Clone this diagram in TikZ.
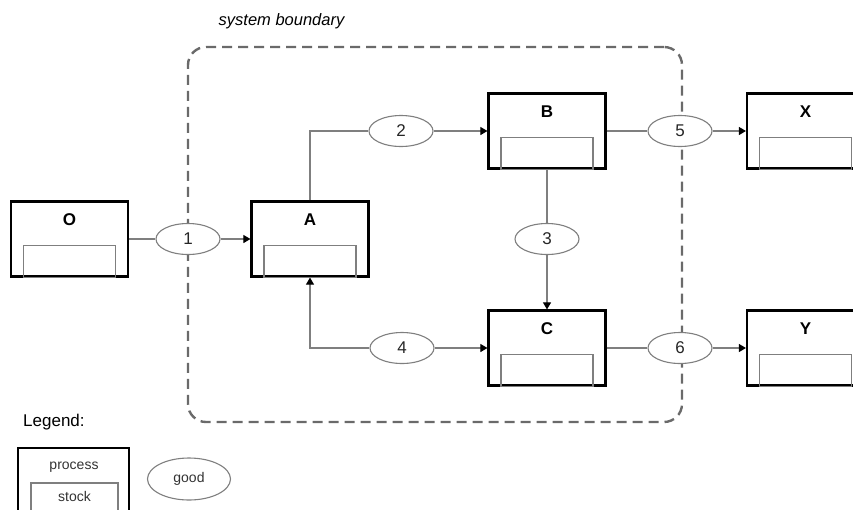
\documentclass[tikz,border=0pt]{standalone}
\usepackage{fontspec}
\setmainfont{Liberation Sans}
\usetikzlibrary{arrows.meta,shapes.geometric,calc}

\definecolor{linegray}{HTML}{7F7F7F}
\definecolor{bordergray}{HTML}{6A6A6A}

\tikzset{
  procbox/.style={draw=black, line width=2.2pt, fill=white,
    minimum width=117pt, minimum height=75pt, inner sep=0pt},
  stockbox/.style={draw=linegray, line width=1.1pt,
    minimum width=92pt, minimum height=32pt, inner sep=0pt},
  proclabel/.style={font=\fontsize{17}{20}\selectfont\bfseries, inner sep=0pt},
  good/.style={ellipse, draw=linegray, line width=1.1pt, fill=white,
    minimum width=64pt, minimum height=31pt, inner sep=0pt,
    font=\fontsize{17}{20}\selectfont, text=black!85},
  conn/.style={draw=linegray, line width=1.1pt},
  flow/.style={conn, -{Triangle[length=7pt,width=8pt,color=black]}},
  boundary/.style={draw=bordergray, line width=2.4pt,
    dash pattern=on 10pt off 6pt, rounded corners=18pt,
    minimum width=494pt, minimum height=375pt, inner sep=0pt},
}

% a process box with its stock and its name
\newcommand\procnode[4]{%
  \node[procbox] (#1) at (#2,#3) {};
  \node[stockbox, anchor=south] (#1s) at (#1.south) {};
  \node[proclabel] (#1l) at ($(#1.north)+(0,19)$) {#4};
}

\begin{document}
\begin{tikzpicture}[x=1pt, y=-1pt]
\path[use as bounding box] (0,0) rectangle (853,509);
\clip (0,0) rectangle (853,509);

% system boundary
\node[boundary] (sys) at (435,234.5) {};
\node[font=\fontsize{16.5}{19}\selectfont\itshape, inner sep=0pt] (syslabel) at (281.5,21) {system boundary};

% processes
\procnode{O}{69.5}{239}{O}
\procnode{A}{310}{239}{A}
\procnode{B}{547}{131}{B}
\procnode{C}{547}{348}{C}
\procnode{X}{805.5}{131}{X}
\procnode{Y}{805.5}{348}{Y}

% goods
\node[good] (g1) at (188,239) {1};
\node[good] (g2) at (401,131) {2};
\node[good] (g3) at (547,239) {3};
\node[good] (g4) at (402,348) {4};
\node[good] (g5) at (680,131) {5};
\node[good] (g6) at (680,348) {6};

% flows
\draw[conn] (O) -- (g1);
\draw[flow] (g1) -- (A);
\draw[conn] (A.north) |- (g2.west);
\draw[flow] (g2) -- (B);
\draw[conn] (B) -- (g3);
\draw[flow] (g3) -- (C);
\draw[flow] (g4.west) -| (A.south);
\draw[flow] (g4) -- (C);
\draw[conn] (B) -- (g5);
\draw[flow] (g5) -- (X);
\draw[conn] (C) -- (g6);
\draw[flow] (g6) -- (Y);

% legend
\node[font=\fontsize{17}{20}\selectfont, anchor=west, inner sep=0pt] (legtitle) at (23,422) {Legend:};
\node[procbox, minimum width=111pt] (legproc) at (73.5,485.5) {};
\node[stockbox, minimum width=87pt, minimum height=40pt] (legstock) at (74.5,503) {};
\node[font=\fontsize{14}{17}\selectfont, text=black!80, inner sep=0pt] (legproct) at (74,467) {process};
\node[font=\fontsize{14}{17}\selectfont, text=black!80, inner sep=0pt] (legstockt) at (74.5,496) {stock};
\node[good, minimum width=83pt, minimum height=42pt, font=\fontsize{14}{17}\selectfont, text=black!80] (leggood) at (189,479) {good};
\end{tikzpicture}
\end{document}
